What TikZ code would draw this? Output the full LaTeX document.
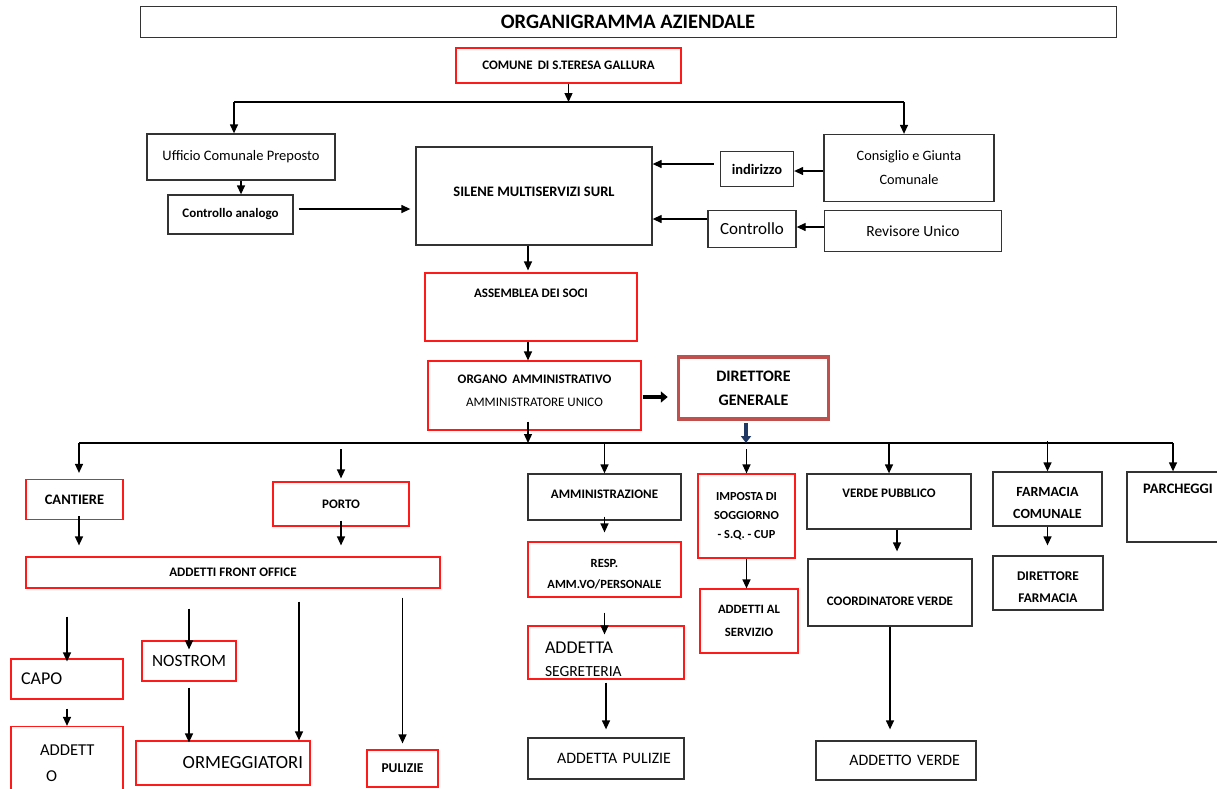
\documentclass[tikz,border=0pt]{standalone}
\usepackage{fontspec}
\setmainfont{Carlito}
\usetikzlibrary{arrows.meta}
\definecolor{boxred}{RGB}{255,25,25}
\definecolor{dgred}{RGB}{192,80,77}
\definecolor{dgblue}{RGB}{31,56,100}
\begin{document}
\begin{tikzpicture}[x=1pt, y=-1pt, line width=1.3pt,
  >={Triangle[length=9pt, width=8pt]},
  kbox/.style={draw=black!80, align=center, inner sep=2pt},
  rbox/.style={draw=boxred, line width=1.2pt, align=center, inner sep=2pt},
  bl/.style={font=\bfseries\fontsize{13}{20}\selectfont}]
\useasboundingbox (0,0) rectangle (1217,788);
\clip (0,0) rectangle (1217,788);

% top
\node[kbox, line width=1pt, minimum width=976, minimum height=31, font=\bfseries\fontsize{20.5}{24}\selectfont] (title) at (628,21.5) {ORGANIGRAMMA AZIENDALE};
\node[rbox, bl, minimum width=225, minimum height=35] (comune) at (568.5,65.5) {COMUNE\hspace{0.4em}DI S.TERESA GALLURA};
\node[kbox, minimum width=188, minimum height=46, font=\fontsize{14.5}{18}\selectfont] (ufficio) at (241,157) {Ufficio Comunale Preposto};
\node[kbox, bl, minimum width=125, minimum height=39] (ctrlan) at (230.5,214.5) {Controllo analogo};
\node[kbox, minimum width=236, minimum height=98, font=\bfseries\fontsize{14.5}{18}\selectfont, text depth=8pt] (silene) at (534,196) {SILENE MULTISERVIZI SURL};
\node[kbox, minimum width=73, minimum height=35, font=\bfseries\fontsize{14.5}{18}\selectfont] (indirizzo) at (757,169) {indirizzo};
\node[kbox, minimum width=170, minimum height=67, font=\fontsize{14.3}{24}\selectfont] (consiglio) at (909,168) {Consiglio e Giunta\\Comunale};
\node[kbox, minimum width=88, minimum height=37, font=\fontsize{17}{20}\selectfont] (controllo) at (752,229) {Controllo};
\node[kbox, minimum width=177, minimum height=41, font=\fontsize{15.5}{19}\selectfont] (revisore) at (913,231) {Revisore Unico};
\node[rbox, bl, minimum width=212, minimum height=68, text depth=28pt] (assemblea) at (531,307) {ASSEMBLEA DEI SOCI};
\node[rbox, minimum width=213, minimum height=69, font=\fontsize{13}{23}\selectfont] (organo) at (534.5,395.5) {\textbf{ORGANO\hspace{0.4em}AMMINISTRATIVO}\\AMMINISTRATORE UNICO\rule[-10pt]{0pt}{0pt}};
\node[draw=dgred, line width=3.5pt, align=center, minimum width=150, minimum height=62, font=\bfseries\fontsize{16}{24}\selectfont] (dirgen) at (753.5,388) {DIRETTORE\\GENERALE};

% second level
\node[rbox, minimum width=97, minimum height=40, font=\bfseries\fontsize{14.5}{18}\selectfont] (cantiere) at (74.5,499.5) {CANTIERE};
\node[rbox, bl, minimum width=136, minimum height=44] (porto) at (341,504) {PORTO};
\node[kbox, bl, minimum width=153, minimum height=46, text depth=6pt] (amm) at (604.5,497) {AMMINISTRAZIONE};
\node[rbox, minimum width=97, minimum height=84, font=\bfseries\fontsize{12.3}{19}\selectfont] (imposta) at (746.5,516) {IMPOSTA DI\\SOGGIORNO\\- S.Q. - CUP};
\node[kbox, bl, minimum width=164, minimum height=55, text depth=17pt] (verde) at (889,501.5) {VERDE PUBBLICO};
\node[kbox, minimum width=109, minimum height=54, font=\bfseries\fontsize{14}{22}\selectfont] (farmacia) at (1047.5,499) {\rule{0pt}{17pt}FARMACIA\\COMUNALE};
\node[kbox, minimum width=102, minimum height=70, font=\bfseries\fontsize{14.5}{18}\selectfont, text depth=36pt] (parcheggi) at (1178,507) {PARCHEGGI};

% third level
\node[rbox, bl, minimum width=414, minimum height=31] (afo) at (233,572.5) {ADDETTI FRONT OFFICE};
\node[rbox, minimum width=153, minimum height=55, font=\bfseries\fontsize{12.5}{21}\selectfont] (resp) at (604.5,569.5) {\rule{0pt}{18pt}RESP.\\AMM.VO/PERSONALE};
\node[rbox, minimum width=156, minimum height=53, text width=122, align=left, font=\fontsize{18}{23}\selectfont] (segr) at (606,652.5) {\rule{0pt}{25pt}ADDETTA\\{\fontsize{15.5}{22}\selectfont SEGRETERIA}};
\node[kbox, minimum width=156, minimum height=41, text width=130, align=right, font=\fontsize{15.9}{19}\selectfont] (addpul) at (606,758.5) {ADDETTA PULIZIE};
\node[rbox, minimum width=98, minimum height=64, font=\bfseries\fontsize{12.7}{23}\selectfont] (addserv) at (749,621) {ADDETTI AL\\SERVIZIO};
\node[kbox, bl, minimum width=164, minimum height=67, text height=27pt] (coord) at (890,592.5) {COORDINATORE VERDE};
\node[kbox, minimum width=160, minimum height=39, text width=128, align=right, font=\fontsize{15.9}{19}\selectfont] (addverde) at (896,760.5) {ADDETTO VERDE};
\node[kbox, minimum width=110, minimum height=54, font=\bfseries\fontsize{13.3}{22}\selectfont] (dirfarm) at (1048,583) {\rule{0pt}{18pt}DIRETTORE\\FARMACIA};
\node[rbox, minimum width=112, minimum height=40, text width=92, align=left, font=\fontsize{18}{22}\selectfont] (capo) at (67,679) {CAPO};
\node[rbox, minimum width=112, minimum height=73, text width=54, align=left, font=\fontsize{16.6}{26}\selectfont] (addetto) at (67,763) {ADDETT\\\hspace*{6pt}O};
\node[rbox, minimum width=94, minimum height=40, font=\fontsize{17.2}{21}\selectfont] (nostrom) at (189,661) {NOSTROM};
\node[rbox, minimum width=174, minimum height=44, text width=160, align=right, font=\fontsize{18.6}{22}\selectfont] (ormegg) at (223,763) {ORMEGGIATORI};
\node[rbox, minimum width=71, minimum height=37, font=\bfseries\fontsize{13.5}{16}\selectfont] (pulizie) at (402.5,768.5) {PULIZIE};

% connectors top
\coordinate (ltop) at (234,102);
\coordinate (rtop) at (904,102);
\draw (ltop) -- (rtop);
\draw[->] (comune) -- (comune |- rtop);
\draw[->] (ltop) -- (ltop |- ufficio.north);
\draw[->] (rtop) -- (rtop |- consiglio.north);
\draw[->] (ufficio.south) -- (ufficio.south |- ctrlan.north);
\draw[->, shorten <=5pt, shorten >=5pt] ([yshift=5.5pt]ctrlan.east) -- ([yshift=5.5pt]ctrlan.east -| silene.west);
\draw[->, shorten <=6pt] ([yshift=5pt]indirizzo.west) -- ([yshift=5pt]indirizzo.west -| silene.east);
\draw[->] ([yshift=-3pt]consiglio.west) -- ([yshift=-3pt]consiglio.west -| indirizzo.east);
\draw[->] ([yshift=10pt]controllo.west) -- ([yshift=10pt]controllo.west -| silene.east);
\draw[->] ([yshift=4pt]revisore.west) -- ([yshift=4pt]revisore.west -| controllo.east);
\draw[->, shorten >=2pt] ([xshift=-6pt]silene.south) -- ([xshift=-6pt]silene.south |- assemblea.north);
\draw[->] ([xshift=-3pt]assemblea.south) -- ([xshift=-3pt]assemblea.south |- organo.north);

% bus
\coordinate (busl) at (79,443);
\coordinate (busr) at (1173,443);
\draw (busl) -- (busr);
\draw[->] ([xshift=-6.5pt,yshift=9pt]organo.south) -- ([xshift=-6.5pt]organo.south |- busl);
\draw[-{Triangle[length=7pt, width=11pt]}, line width=4.5pt, shorten <=1pt, shorten >=9pt] ([yshift=-1.5pt]organo.east) -- ([yshift=-1.5pt]organo.east -| dirgen.west);
\draw[-{Triangle[length=7pt, width=10pt]}, dgblue, line width=3.5pt, shorten <=2pt] ([xshift=-7.5pt]dirgen.south) -- ([xshift=-7.5pt]dirgen.south |- busl);
\draw[->, shorten >=6pt] (busl) -- (busl |- cantiere.north);
\draw[->, shorten <=6pt, shorten >=3pt] (busl -| porto) -- (porto);
\draw[->] (busl -| amm) -- (amm);
\draw[->, shorten <=6pt] (busl -| imposta) -- (imposta);
\draw[->] (busl -| verde) -- (verde);
\draw[->, shorten <=-2pt] (busl -| farmacia) -- (farmacia);
\draw[->] (busr) -- (busr |- parcheggi.north);

% lower
\draw[->, shorten <=-4pt, shorten >=11pt] ([xshift=4.5pt]cantiere.south) -- ([xshift=4.5pt]cantiere.south |- afo.north);
\draw[->, shorten <=-6pt, shorten >=11pt] (porto) -- (porto |- afo.north);
\draw[->, shorten <=28pt, shorten >=-3pt] (afo.south -| capo) -- (capo);
\draw[->, shorten <=20pt, shorten >=-9pt] (afo.south -| nostrom) -- (nostrom);
\draw[->, shorten <=13pt] ([xshift=76pt]ormegg.north |- afo.south) -- ([xshift=76pt]ormegg.north);
\draw[->, shorten <=9pt, shorten >=6pt] (afo.south -| pulizie) -- (pulizie);
\draw[->, shorten <=9pt] (capo) -- (addetto);
\draw[->, shorten <=6pt, shorten >=-2pt] (nostrom) -- (nostrom |- ormegg.north);
\draw[->, shorten <=-4pt, shorten >=9pt] (amm) -- (resp);
\draw[->, shorten <=15pt, shorten >=-9pt] (resp) -- (resp |- segr.north);
\draw[->, shorten <=3pt, shorten >=8pt] (segr) -- (addpul);
\draw[->] (imposta) -- (imposta |- addserv.north);
\draw[->, shorten >=7pt] ([xshift=8pt]verde.south) -- ([xshift=8pt]verde.south |- coord.north);
\draw[->, shorten >=11pt] (coord) -- (coord |- addverde.north);
\draw[->, shorten >=10pt] (farmacia) -- (farmacia |- dirfarm.north);
\end{tikzpicture}
\end{document}
